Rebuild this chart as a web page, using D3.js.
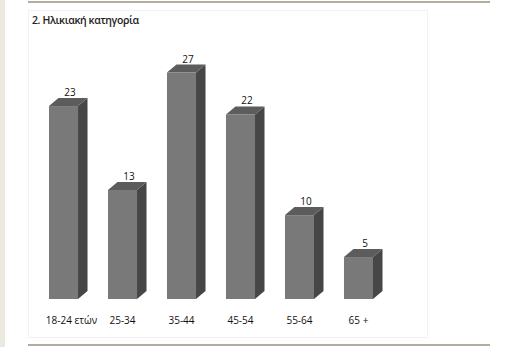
<!DOCTYPE html>
<html>
<head>
<meta charset="utf-8">
<script src="https://cdn.jsdelivr.net/npm/d3@7"></script>
<style>
  body { margin: 0; background: #fff; }
</style>
</head>
<body>
<div id="chart"></div>
<script>
// data
const categories = ["18-24 ετών", "25-34", "35-44", "45-54", "55-64", "65 +"];
const values = [23, 13, 27, 22, 10, 5];
const title = "2. Ηλικιακή κατηγορία";

const width = 516;
const height = 347;

const svg = d3.select("#chart")
    .append("svg")
    .attr("width", width)
    .attr("height", height)
    .style("font-family", "'Open Sans', 'Noto Sans', sans-serif");

// page decoration
svg.append("rect").attr("x", 0).attr("y", 0).attr("width", 5).attr("height", height).attr("fill", "#ebe9e0");
svg.append("rect").attr("x", 28).attr("y", 1).attr("width", 462).attr("height", 2).attr("fill", "#b3ae9c");
svg.append("rect").attr("x", 28).attr("y", 344).attr("width", 462).attr("height", 2).attr("fill", "#b3ae9c");
svg.append("rect").attr("x", 28.5).attr("y", 10.5).attr("width", 399).attr("height", 327)
    .attr("fill", "none").attr("stroke", "#f2f2f0");

svg.append("text")
    .attr("x", 32).attr("y", 24)
    .attr("font-size", "10.5px")
    .attr("font-weight", "600")
    .attr("letter-spacing", "-0.4")
    .attr("fill", "#222")
    .text(title);

// scales
const x = d3.scaleBand()
    .domain(categories)
    .range([19.5, 402.5])
    .paddingInner(0.508)
    .paddingOuter(0.5);

const y = d3.scaleLinear()
    .domain([0, 27])
    .range([299, 72.5]);

const dx = 9.5, dy = 8;
const data = categories.map((c, i) => ({ cat: c, val: values[i] }));

const bars = svg.append("g").selectAll("g").data(data).join("g");

// side face
bars.append("path")
    .attr("d", d => {
        const x0 = x(d.cat) + x.bandwidth();
        return `M${x0},${y(d.val)} L${x0 + dx},${y(d.val) - dy} L${x0 + dx},${y(0) - dy} L${x0},${y(0)} Z`;
    })
    .attr("fill", "#464646");

// top face
bars.append("path")
    .attr("d", d => {
        const x0 = x(d.cat), x1 = x0 + x.bandwidth(), yt = y(d.val);
        return `M${x0},${yt} L${x0 + dx},${yt - dy} L${x1 + dx},${yt - dy} L${x1},${yt} Z`;
    })
    .attr("fill", "#5c5c5c");

// front face
bars.append("rect")
    .attr("x", d => x(d.cat))
    .attr("y", d => y(d.val))
    .attr("width", x.bandwidth())
    .attr("height", d => y(0) - y(d.val))
    .attr("fill", "#797979");

// value labels
svg.append("g").selectAll("text").data(data).join("text")
    .attr("x", d => x(d.cat) + x.bandwidth() / 2 + 6.5)
    .attr("y", d => y(d.val) - dy - 2)
    .attr("text-anchor", "middle")
    .attr("font-size", "10px")
    .attr("fill", "#111")
    .text(d => d.val);

// category labels
svg.append("g").selectAll("text").data(data).join("text")
    .attr("x", (d, i) => x(d.cat) + x.bandwidth() / 2 + (i === 0 ? 8 : 0))
    .attr("y", 323.5)
    .attr("text-anchor", "middle")
    .attr("font-size", "10px")
    .attr("fill", "#111")
    .text(d => d.cat);
</script>
</body>
</html>
